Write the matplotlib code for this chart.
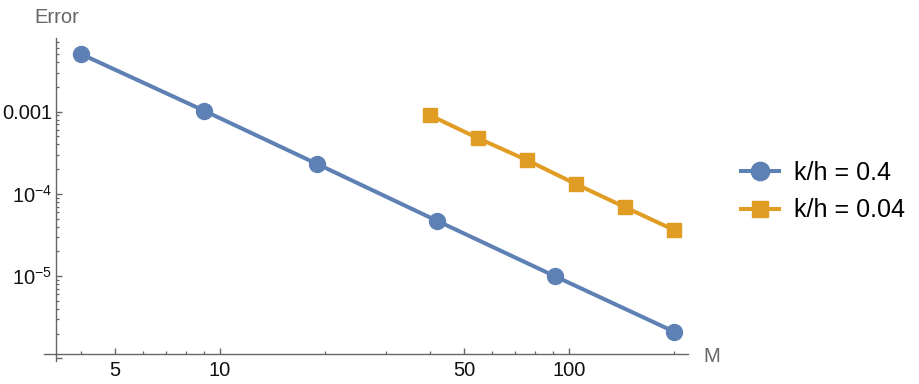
import numpy as np
import matplotlib
matplotlib.use("Agg")
import matplotlib.pyplot as plt
from matplotlib.ticker import LogLocator, NullFormatter

plt.rcParams['font.family'] = ['Liberation Sans', 'DejaVu Sans']
plt.rcParams['mathtext.fontset'] = 'custom'
plt.rcParams['mathtext.rm'] = 'Liberation Sans'
plt.rcParams['mathtext.it'] = 'Liberation Sans:italic'
plt.rcParams['mathtext.bf'] = 'Liberation Sans:bold'

# values
M_a = [4, 9, 19, 42, 91, 200]
err_a = [5.03e-3, 1.03e-3, 2.31e-4, 4.68e-5, 1.0e-5, 2.11e-6]
M_b = [40, 55, 76, 105, 145, 200]
err_b = [9.04e-4, 4.74e-4, 2.56e-4, 1.31e-4, 6.87e-5, 3.64e-5]
labels = ["k/h = 0.4", "k/h = 0.04"]

xticks = [5, 10, 50, 100]
xticklabels = ["5", "10", "50", "100"]
yticks = [1e-3, 1e-4, 1e-5, 1e-6]
yticklabels = ["0.001", "$10^{-4}$", "$10^{-5}$", ""]

blue = "#5E81B5"
orange = "#E19C24"
gray = "#666666"

fig = plt.figure(figsize=(9.19, 3.84), dpi=100)
ax = fig.add_axes([44/919, 23.3/384, 644/919, 322.4/384])

ax.plot(M_a, err_a, color=blue, lw=2.9, marker="o", ms=11.5, label=labels[0])
ax.plot(M_b, err_b, color=orange, lw=2.9, marker="s", ms=10.5, label=labels[1])

ax.set_xscale("log")
ax.set_yscale("log")
ax.set_xlim(3.132, 219.3)
ax.set_ylim(9.35e-7, 7.82e-3)

# axes cross inside the plot area, like the original
ax.spines["left"].set_position(("data", 3.398))
ax.spines["bottom"].set_position(("data", 1.12e-6))
ax.spines["top"].set_visible(False)
ax.spines["right"].set_visible(False)
for s in ["left", "bottom"]:
    ax.spines[s].set_color(gray)
    ax.spines[s].set_linewidth(1.0)

ax.set_xticks(xticks, xticklabels)
ax.set_yticks(yticks, yticklabels)
ax.xaxis.set_minor_locator(LogLocator(base=10, subs=np.arange(2, 10)))
ax.yaxis.set_minor_locator(LogLocator(base=10, subs=np.arange(2, 10)))
ax.xaxis.set_minor_formatter(NullFormatter())
ax.yaxis.set_minor_formatter(NullFormatter())
ax.tick_params(which="major", direction="in", length=4.5, width=1, color=gray,
               labelsize=14.5, labelcolor="#111111")
ax.tick_params(which="minor", direction="in", length=2.5, width=0.9, color=gray)
ax.tick_params(axis="x", pad=5)
ax.tick_params(axis="y", pad=3)

fig.text(57/919, 1 - 22.7/384, "Error", ha="center", va="baseline", fontsize=14.5, color=gray)
fig.text(703/919, 1 - 361.7/384, "M", ha="left", va="baseline", fontsize=14.5, color=gray)

fig.legend(loc="center left", bbox_to_anchor=(741/919, 1 - 191.5/384), frameon=False,
           fontsize=18, handlelength=1.52, handletextpad=0.6, labelspacing=0.55,
           borderpad=0, borderaxespad=0, markerscale=1.15)

fig.savefig("out.png", dpi=100)
